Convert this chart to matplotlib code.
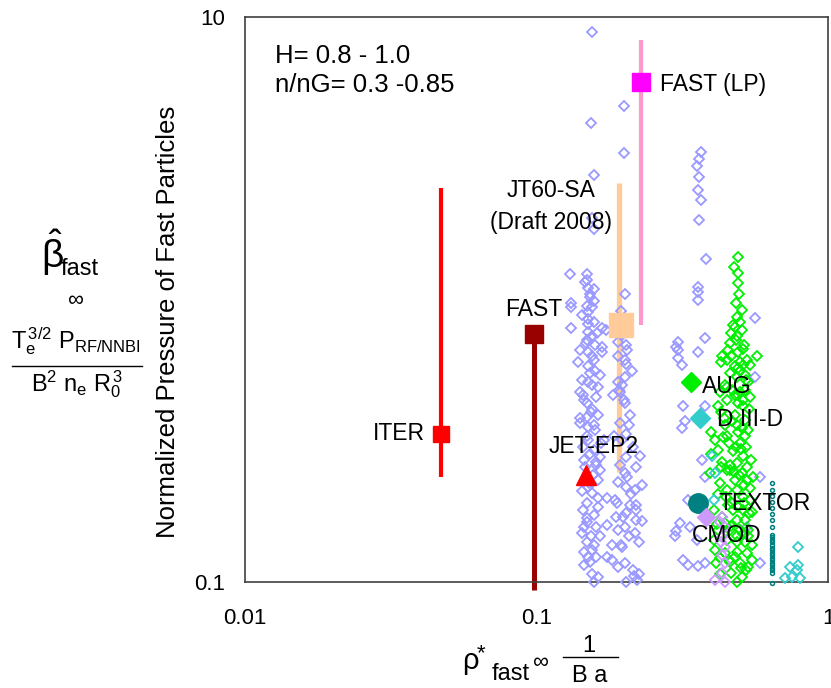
import matplotlib
matplotlib.use("Agg")
import matplotlib.pyplot as plt

plt.rcParams['font.family'] = ['Liberation Sans', 'DejaVu Sans']
plt.rcParams['mathtext.fontset'] = 'custom'
plt.rcParams['mathtext.rm'] = 'Liberation Sans'
plt.rcParams['mathtext.it'] = 'Liberation Sans'
plt.rcParams['mathtext.bf'] = 'Liberation Sans:bold'

# ---------------- data ----------------
x_ticks = [0.01, 0.1, 1]
x_tick_labels = ['0.01', '0.1', '1']
y_ticks = [0.1, 10]
y_tick_labels = ['0.1', '10']

# vertical ranges of devices
bar_names = ['ITER', 'FAST', 'JT60-SA', 'FAST (LP)']
bar_x = [0.047, 0.098, 0.192, 0.229]
bar_lo = [0.235, 0.0937, 0.245, 0.81]
bar_hi = [2.48, 0.755, 2.58, 8.3]
bar_colors = ['#ff0000', '#990000', '#ffcc99', '#ff99cc']
bar_lw = [3.0, 3.6, 3.8, 3.0]

# device points
dev_names = ['ITER', 'FAST', 'JT60-SA', 'FAST (LP)', 'JET-EP2', 'AUG', 'D III-D', 'TEXTOR', 'CMOD']
dev_x = [0.047, 0.098, 0.195, 0.229, 0.148, 0.339, 0.364, 0.357, 0.381]
dev_y = [0.334, 0.755, 0.81, 5.89, 0.239, 0.51, 0.381, 0.19, 0.17]
dev_markers = ['s', 's', 's', 's', '^', 'D', 'D', 'o', 'D']
dev_colors = ['#ff0000', '#990000', '#ffcc99', '#ff00ff', '#ff0000', '#00ee00', '#33cccc', '#008080', '#cc99ff']
dev_ms = [12, 12.5, 17.5, 13, 14, 10, 10, 14, 9]

# experimental database clouds
blue_x = [.155, .20, .154, .20, .157, .155, .157, .130, .149, .149, .150, .157, .153, .131, .131, .149, .155, .150, .131, .168,
          .201, .195, .150, .157, .150, .155, .149, .159, .168, .168, .190, .203, .150, .157, .150, .159, .190, .201, .203, .143,
          .150, .155, .190, .201, .197, .141, .149, .155, .149, .162, .141, .150, .159, .193, .201, .209, .193, .203, .197, .150,
          .157, .165, .203, .220, .201, .165, .162, .150, .155, .149, .162, .174, .190, .203, .218, .230, .220, .203, .188, .220,
          .149, .160, .175, .190, .201, .218, .224, .149, .155, .150, .160, .175, .182, .190, .201, .215, .224, .222, .155, .157,
          .162, .203, .197, .143, .146, .144, .160, .145, .160, .144, .158, .170, .146, .165, .181, .209, .186, .141, .165, .183,
          .367, .360, .354, .360, .357, .367, .360, .381, .357, .357, .357, .562, .378, .305, .302, .305, .357, .305, .316, .562,
          .318, .378, .323, .316, .371, .378, .584, .330, .311, .302, .299, .336, .354, .318, .330, .357, .378, .584, .526, .173,
          .147, .152, .158, .143, .150, .161, .148, .155, .139, .152, .163, .146, .154, .141, .157, .149, .166, .144, .153, .160,
          .147, .156, .151, .143, .162, .149, .154, .158, .145, .152,
          .188, .196, .205, .212, .192, .199, .207, .185, .214, .226, .193, .204, .211, .189, .219, .198, .231, .208, .195, .216]
blue_y = [8.85, 4.84, 4.22, 3.30, 2.76, 1.94, 1.77, 1.23, 1.23, 1.17, 1.10, 1.09, 1.02, 0.97, 0.94, 0.95, 0.94, 0.90, 0.79, 0.79,
          1.05, 0.91, 0.85, 0.83, 0.77, 0.74, 0.72, 0.69, 0.68, 0.65, 0.71, 0.69, 0.65, 0.61, 0.58, 0.56, 0.63, 0.61, 0.59, 0.52,
          0.51, 0.50, 0.51, 0.53, 0.50, 0.47, 0.43, 0.41, 0.385, 0.39, 0.365, 0.355, 0.345, 0.47, 0.43, 0.39, 0.365, 0.335, 0.318, 0.318,
          0.293, 0.277, 0.277, 0.255, 0.243, 0.249, 0.230, 0.217, 0.206, 0.190, 0.199, 0.199, 0.226, 0.217, 0.212, 0.220, 0.187, 0.175, 0.170, 0.166,
          0.163, 0.156, 0.159, 0.153, 0.156, 0.149, 0.139, 0.138, 0.130, 0.123, 0.123, 0.123, 0.120, 0.113, 0.117, 0.110, 0.107, 0.102, 0.107, 0.100,
          0.104, 0.100, 0.133, 0.149, 0.156, 0.46, 0.45, 0.270, 0.26, 0.180, 0.172, 0.318, 0.115, 0.146, 0.135, 0.187, 0.195, 0.665, 0.54, 0.46,
          3.33, 3.15, 2.96, 2.71, 2.45, 2.25, 1.91, 1.39, 1.11, 1.06, 1.00, 0.86, 0.73, 0.71, 0.68, 0.66, 0.65, 0.62, 0.585, 0.53,
          0.42, 0.42, 0.37, 0.35, 0.27, 0.235, 0.235, 0.195, 0.162, 0.152, 0.146, 0.157, 0.141, 0.120, 0.115, 0.114, 0.117, 0.117, 0.157, 0.78,
          1.15, 1.05, 0.99, 0.88, 0.82, 0.76, 0.70, 0.63, 0.60, 0.55, 0.49, 0.44, 0.40, 0.38, 0.36, 0.33, 0.31, 0.30, 0.285, 0.265,
          0.255, 0.24, 0.225, 0.21, 0.185, 0.168, 0.145, 0.135, 0.128, 0.118,
          0.80, 0.75, 0.66, 0.56, 0.48, 0.44, 0.36, 0.33, 0.30, 0.28, 0.26, 0.235, 0.205, 0.19, 0.18, 0.17, 0.165, 0.145, 0.135, 0.105]

green_x = [.490, .490, .490, .484, .487, .499, .480, .507, .487, .461, .511, .490, .433, .465, .526, .570, .450, .430, .499, .511,
           .490, .540, .461, .487, .519, .533, .450, .426, .450, .499, .490, .511, .419, .430, .540, .480, .519, .443, .397, .409,
           .450, .490, .519, .397, .419, .472, .511, .433, .487, .526, .507, .480, .526, .553, .426, .450, .487, .511, .540, .472,
           .511, .433, .487, .519, .419, .461, .499, .533, .450, .487, .519, .409, .443, .487, .526, .413, .461, .499, .533, .426,
           .465, .507, .487, .394, .405, .461, .499, .454, .547, .407, .547, .480, .519, .472, .461,
           .475, .495, .505, .465, .485, .515, .455, .478, .500, .525, .445, .470, .492, .512, .535, .440, .468, .488, .508, .530,
           .435, .458, .482, .503, .522, .545, .428, .452, .476, .497, .517, .538, .420, .447, .470, .493, .514, .536, .415, .442,
           .466, .489, .510, .530, .425, .456, .480, .502, .524, .548]
green_y = [1.41, 1.24, 1.14, 0.97, 0.87, 0.83, 0.80, 0.78, 0.74, 0.70, 0.67, 0.65, 0.63, 0.63, 0.61, 0.63, 0.61, 0.60, 0.60, 0.585,
           0.57, 0.585, 0.55, 0.53, 0.54, 0.51, 0.49, 0.47, 0.44, 0.47, 0.43, 0.42, 0.42, 0.40, 0.45, 0.39, 0.375, 0.36, 0.34, 0.318,
           0.33, 0.34, 0.33, 0.285, 0.293, 0.29, 0.28, 0.266, 0.264, 0.255, 0.243, 0.230, 0.230, 0.235, 0.225, 0.212, 0.212, 0.20, 0.195, 0.180,
           0.180, 0.170, 0.166, 0.166, 0.153, 0.153, 0.153, 0.153, 0.141, 0.138, 0.138, 0.130, 0.127, 0.128, 0.127, 0.117, 0.118, 0.117, 0.113, 0.107,
           0.108, 0.104, 0.100, 0.243, 0.180, 0.26, 0.31, 0.187, 0.177, 0.141, 0.135, 0.46, 0.48, 0.81, 0.249,
           1.30, 1.05, 0.92, 0.76, 0.72, 0.69, 0.66, 0.58, 0.56, 0.52, 0.50, 0.48, 0.46, 0.44, 0.41, 0.38, 0.37, 0.36, 0.35, 0.345,
           0.325, 0.31, 0.30, 0.295, 0.30, 0.27, 0.255, 0.25, 0.245, 0.24, 0.22, 0.215, 0.205, 0.20, 0.19, 0.185, 0.19, 0.175, 0.16, 0.162,
           0.158, 0.145, 0.148, 0.145, 0.122, 0.12, 0.123, 0.112, 0.11, 0.12]

cyan_x = [.40, .41, .405, .79, .741, .79, .75, .80, .785, .71]
cyan_y = [.28, .243, .195, .133, .113, .115, .104, .103, .11, .103]

lav_x = [.433, .443, .433, .443, .433, .443, .433, .409, .443, .426, .430]
lav_y = [.170, .157, .144, .133, .125, .117, .108, .102, .100, .163, .138]

teal_x = [.643, .642, .643, .644, .643, .642, .643, .643, .643, .644, .643, .642, .643,
          .643, .644, .643, .642, .643, .643, .644, .643, .642, .643, .643, .643]
teal_y = [.224, .212, .201, .192, .183, .174, .166, .157, .147, .144, .141, .138, .135,
          .132, .130, .127, .125, .122, .120, .117, .115, .112, .110, .108, .099]

# label texts (data positions)
lab_text = ['ITER', 'FAST', 'JT60-SA', '(Draft 2008)', 'FAST (LP)', 'JET-EP2', 'AUG', 'D III-D', 'TEXTOR', 'CMOD']
lab_x = [0.0414, 0.098, 0.112, 0.112, 0.265, 0.110, 0.370, 0.415, 0.420, 0.341]
lab_y = [0.318, 0.874, 2.31, 1.78, 5.47, 0.286, 0.467, 0.356, 0.180, 0.1386]
lab_ha = ['right', 'center', 'center', 'center', 'left', 'left', 'left', 'left', 'left', 'left']

# ---------------- figure ----------------
W, H = 831, 688
fig = plt.figure(figsize=(W / 100, H / 100), dpi=100)
ax = fig.add_axes([245 / W, 1 - 582 / H, (828 - 245) / W, (582 - 17) / H])
ax.set_xscale('log')
ax.set_yscale('log')
ax.set_xlim(0.01, 1)
ax.set_ylim(0.1, 10)
ax.minorticks_off()
ax.set_xticks(x_ticks)
ax.set_xticklabels(x_tick_labels)
ax.set_yticks(y_ticks)
ax.set_yticklabels(y_tick_labels)
ax.tick_params(axis='both', length=0, labelsize=16, colors='#000000')
ax.tick_params(axis='x', pad=18.5)
ax.tick_params(axis='y', pad=14)
for s in ax.spines.values():
    s.set_color('#404040')
    s.set_linewidth(1.2)

# vertical ranges
for x, lo, hi, c, lw in zip(bar_x, bar_lo, bar_hi, bar_colors, bar_lw):
    ax.plot([x, x], [lo, hi], color=c, lw=lw, solid_capstyle='butt', clip_on=False, zorder=2)

# clouds
cloud_kw = dict(ls='none', marker='D', ms=4.8, mfc='none', mew=1.3, clip_on=False, zorder=3)
ax.plot(blue_x, blue_y, mec='#9999ff', **cloud_kw)
ax.plot(green_x, green_y, mec='#00ee00', **cloud_kw)
ax.plot(cyan_x, cyan_y, mec='#33cccc', **cloud_kw)
ax.plot(lav_x, lav_y, mec='#cc99ff', **cloud_kw)
ax.plot(teal_x, teal_y, ls='none', marker='o', ms=2.8, mfc='none', mec='#008080', mew=1.1,
        clip_on=False, zorder=3)

# device markers
for x, y, m, c, ms in zip(dev_x, dev_y, dev_markers, dev_colors, dev_ms):
    ax.plot([x], [y], ls='none', marker=m, ms=ms, color=c, mec=c, zorder=5, clip_on=False)

# labels
for t, x, y, ha in zip(lab_text, lab_x, lab_y, lab_ha):
    ax.text(x, y, t, ha=ha, va='baseline', fontsize=16.5, color='#000000', zorder=6)

ax.text(0.0515, 0.9186, 'H= 0.8 - 1.0', transform=ax.transAxes, fontsize=18.5, va='baseline', ha='left')
ax.text(0.0515, 0.867, 'n/nG= 0.3 -0.85', transform=ax.transAxes, fontsize=18.5, va='baseline', ha='left')

def fx(px):
    return px / W

def fy(py):
    return 1 - py / H

# y-axis label
fig.text(fx(168), fy(322), 'Normalized Pressure of Fast Particles', rotation=90,
         ha='center', va='center', fontsize=18.5)

# left formula
fig.text(fx(52), fy(268), r'$\hat{\beta}$', ha='center', va='baseline', fontsize=28)
fig.text(fx(61), fy(275), 'fast', ha='left', va='baseline', fontsize=17)
fig.text(fx(75), fy(306), '\u221e', ha='center', va='baseline', fontsize=16)
fig.text(fx(76), fy(348), r'$\mathregular{T_e^{\,3/2}\ P_{RF/NNBI}}$', ha='center', va='baseline', fontsize=17)
fig.add_artist(plt.Line2D([fx(12), fx(142)], [fy(366), fy(366)], color='#000000', lw=1.0))
fig.text(fx(77), fy(391), r'$\mathregular{B^2\ n_e\ R_0^{\,3}}$', ha='center', va='baseline', fontsize=17)

# x-axis label
fig.text(fx(462), fy(669), '\u03c1', ha='left', va='baseline', fontsize=21)
fig.text(fx(477), fy(659), '*', ha='left', va='baseline', fontsize=16)
fig.text(fx(492), fy(680), 'fast', ha='left', va='baseline', fontsize=17)
fig.text(fx(532), fy(668), '\u221e', ha='left', va='baseline', fontsize=16)
fig.text(fx(589), fy(652), '1', ha='center', va='baseline', fontsize=17)
fig.add_artist(plt.Line2D([fx(563), fx(618)], [fy(657), fy(657)], color='#000000', lw=1.0))
fig.text(fx(590), fy(682), 'B a', ha='center', va='baseline', fontsize=17)

fig.savefig('out.png', dpi=100)
